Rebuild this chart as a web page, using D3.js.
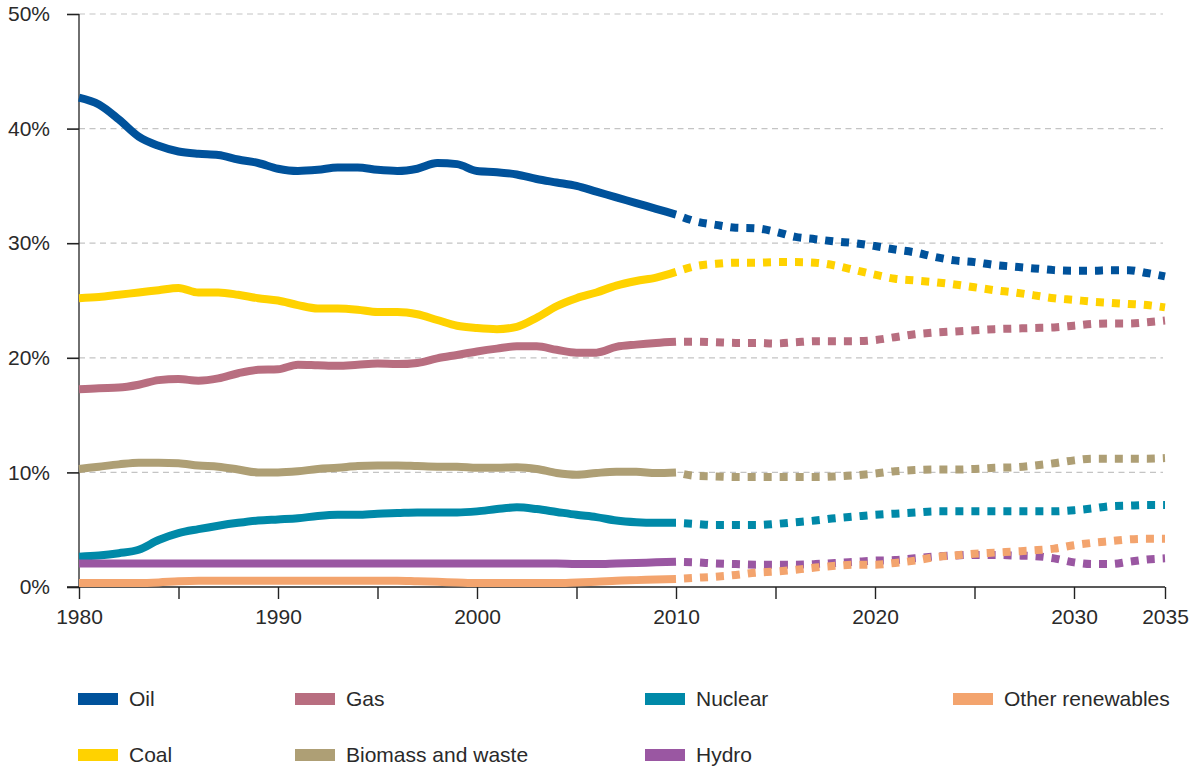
<!DOCTYPE html>
<html>
<head>
<meta charset="utf-8">
<script src="https://cdn.jsdelivr.net/npm/d3@7"></script>
<style>
  html, body { margin: 0; padding: 0; background: #fff; }
  svg { display: block; font-family: "Liberation Sans", Arial, sans-serif; }
</style>
</head>
<body>
<svg id="chart" width="1189" height="767"></svg>
<script>
// ---- data ----
const histYears = d3.range(1980, 2011);
const projYears = d3.range(2010, 2036);
const xTickYears = [1980, 1985, 1990, 1995, 2000, 2005, 2010, 2015, 2020, 2025, 2030, 2035];
const xTickLabels = {1980: "1980", 1990: "1990", 2000: "2000", 2010: "2010", 2020: "2020", 2030: "2030", 2035: "2035"};
const yTicks = [0, 10, 20, 30, 40, 50];
const yTickLabels = ["0%", "10%", "20%", "30%", "40%", "50%"];

const seriesNames = ["Oil", "Coal", "Gas", "Biomass and waste", "Nuclear", "Hydro", "Other renewables"];
const seriesColors = ["#00529b", "#ffd200", "#b86e80", "#ae9f75", "#0089a8", "#9a57a2", "#f3a46e"];

const oilHist = [42.7,42.1,40.8,39.3,38.5,38.0,37.8,37.7,37.3,37.0,36.5,36.3,36.4,36.6,36.6,36.4,36.3,36.5,37.0,36.9,36.3,36.2,36.0,35.6,35.3,35.0,34.5,34.0,33.5,33.0,32.5];
const oilProj = [32.5,31.9,31.6,31.35,31.3,31.0,30.55,30.35,30.15,30.0,29.75,29.45,29.2,28.8,28.5,28.35,28.1,27.95,27.8,27.65,27.6,27.6,27.65,27.65,27.4,27.1];

const coalHist = [25.2,25.3,25.5,25.7,25.9,26.1,25.7,25.7,25.5,25.2,25.0,24.6,24.3,24.3,24.2,24.0,24.0,23.8,23.3,22.8,22.6,22.5,22.7,23.5,24.5,25.2,25.7,26.3,26.7,27.0,27.5];
const coalProj = [27.5,28.0,28.2,28.3,28.3,28.35,28.35,28.3,28.05,27.65,27.25,26.9,26.75,26.6,26.4,26.15,25.9,25.7,25.45,25.2,25.05,24.9,24.8,24.7,24.6,24.4];

const gasHist = [17.25,17.35,17.4,17.65,18.05,18.15,18.0,18.2,18.65,18.95,19.0,19.4,19.35,19.3,19.4,19.5,19.45,19.55,19.95,20.25,20.55,20.8,21.0,21.0,20.7,20.45,20.45,20.95,21.15,21.3,21.4];
const gasProj = [21.4,21.4,21.35,21.3,21.3,21.25,21.35,21.45,21.45,21.45,21.55,21.8,22.05,22.2,22.3,22.4,22.5,22.55,22.6,22.65,22.8,22.95,23.0,23.0,23.1,23.25];

const biomassHist = [10.3,10.5,10.7,10.85,10.85,10.8,10.6,10.5,10.25,10.0,10.0,10.1,10.3,10.4,10.55,10.6,10.6,10.55,10.5,10.5,10.4,10.4,10.45,10.3,9.95,9.8,9.95,10.05,10.05,9.95,10.0];
const biomassProj = [10.0,9.7,9.65,9.6,9.6,9.6,9.6,9.6,9.65,9.75,9.9,10.1,10.2,10.25,10.25,10.3,10.4,10.45,10.6,10.8,11.05,11.2,11.2,11.2,11.2,11.25];

const nuclearHist = [2.65,2.75,2.95,3.25,4.1,4.7,5.05,5.35,5.6,5.8,5.9,6.0,6.2,6.3,6.3,6.4,6.45,6.5,6.5,6.5,6.6,6.8,6.95,6.8,6.55,6.3,6.1,5.8,5.65,5.6,5.6];
const nuclearProj = [5.6,5.5,5.4,5.4,5.4,5.5,5.65,5.8,6.0,6.15,6.3,6.4,6.5,6.6,6.6,6.6,6.6,6.6,6.6,6.6,6.7,6.85,7.05,7.1,7.15,7.15];

const hydroHist = [2.05,2.05,2.05,2.05,2.05,2.05,2.05,2.05,2.05,2.05,2.05,2.05,2.05,2.05,2.05,2.05,2.05,2.05,2.05,2.05,2.05,2.05,2.05,2.05,2.05,2.0,2.0,2.05,2.1,2.15,2.2];
const hydroProj = [2.2,2.15,2.05,2.0,1.95,1.95,1.95,2.0,2.1,2.2,2.3,2.35,2.5,2.65,2.75,2.8,2.8,2.75,2.7,2.5,2.15,2.0,2.0,2.2,2.4,2.5];

const otherHist = [0.35,0.35,0.35,0.35,0.4,0.5,0.55,0.55,0.55,0.55,0.55,0.55,0.55,0.55,0.55,0.55,0.55,0.5,0.45,0.4,0.35,0.35,0.35,0.35,0.35,0.4,0.45,0.55,0.6,0.65,0.7];
const otherProj = [0.7,0.8,0.9,1.05,1.25,1.35,1.5,1.7,1.85,1.95,1.95,2.1,2.3,2.6,2.75,2.9,3.0,3.1,3.2,3.35,3.65,3.85,4.0,4.15,4.2,4.2];

const histValues = [oilHist, coalHist, gasHist, biomassHist, nuclearHist, hydroHist, otherHist];
const projValues = [oilProj, coalProj, gasProj, biomassProj, nuclearProj, hydroProj, otherProj];

// legend layout order (row 1 then row 2)
const legendOrder = ["Oil", "Gas", "Nuclear", "Other renewables", "Coal", "Biomass and waste", "Hydro"];

// ---- chart ----
const svg = d3.select("#chart");
const FONT = 21;
const TEXT = "#2a2a2a";

const x = d3.scaleLinear().domain([1980, 2030, 2035]).range([79, 1074, 1165]);
const y = d3.scaleLinear().domain([0, 50]).range([587, 14]);

// gridlines
svg.append("g")
  .selectAll("line")
  .data(yTicks.filter(d => d > 0))
  .join("line")
  .attr("x1", x(1980)).attr("x2", x(2035) - 2)
  .attr("y1", d => y(d)).attr("y2", d => y(d))
  .attr("stroke", "#c4c4c4")
  .attr("stroke-width", 1.2)
  .attr("stroke-dasharray", "6,4.5");

// y axis
const yAxis = svg.append("g")
  .attr("transform", `translate(${x(1980)},0)`)
  .call(d3.axisLeft(y).tickValues(yTicks).tickSize(12).tickPadding(17)
    .tickFormat((d, i) => yTickLabels[i]));
yAxis.select(".domain").attr("stroke", "#333").attr("stroke-width", 1.4).attr("d", `M0,${y(50)}V${y(0)}`);
yAxis.selectAll(".tick line").attr("stroke", "#222").attr("stroke-width", 1.6);
yAxis.selectAll(".tick text").attr("font-size", FONT).attr("fill", TEXT)
  .attr("font-family", "Liberation Sans, Arial, sans-serif");

// x axis
const xAxis = svg.append("g")
  .attr("transform", `translate(0,${y(0)})`)
  .call(d3.axisBottom(x).tickValues(xTickYears).tickSize(12).tickPadding(10)
    .tickFormat(d => xTickLabels[d] || ""));
xAxis.select(".domain").attr("stroke", "#222").attr("stroke-width", 1.6)
  .attr("d", `M${x(1980) - 12},0H${x(2035)}`);
xAxis.selectAll(".tick line").attr("stroke", "#222").attr("stroke-width", 1.4);
xAxis.selectAll(".tick text").attr("font-size", FONT).attr("fill", TEXT)
  .attr("font-family", "Liberation Sans, Arial, sans-serif");

// lines
const line = d3.line()
  .x(d => x(d[0]))
  .y(d => y(d[1]))
  .curve(d3.curveMonotoneX);

const linesG = svg.append("g");
seriesNames.forEach((name, i) => {
  const hist = histYears.map((yr, j) => [yr, histValues[i][j]]);
  const proj = projYears.map((yr, j) => [yr, projValues[i][j]]);
  linesG.append("path")
    .datum(proj)
    .attr("fill", "none")
    .attr("stroke", seriesColors[i])
    .attr("stroke-width", 8)
    .attr("stroke-dasharray", "8,8")
    .attr("stroke-dashoffset", 8)
    .attr("d", line);
  linesG.append("path")
    .datum(hist)
    .attr("fill", "none")
    .attr("stroke", seriesColors[i])
    .attr("stroke-width", 8)
    .attr("stroke-linejoin", "round")
    .attr("d", line);
});

// legend
const colX = [78, 295, 645, 953];
const rowY = [699, 755];
const legend = svg.append("g");
legendOrder.forEach((name, k) => {
  const i = seriesNames.indexOf(name);
  const col = k < 4 ? k : k - 4;
  const row = k < 4 ? 0 : 1;
  const g = legend.append("g").attr("transform", `translate(${colX[col]},${rowY[row]})`);
  g.append("rect").attr("x", 0).attr("y", -6).attr("width", 40).attr("height", 12)
    .attr("fill", seriesColors[i]);
  g.append("text").attr("x", 51).attr("y", 0).attr("dy", "0.35em")
    .attr("font-size", FONT).attr("fill", TEXT).text(name);
});
</script>
</body>
</html>
